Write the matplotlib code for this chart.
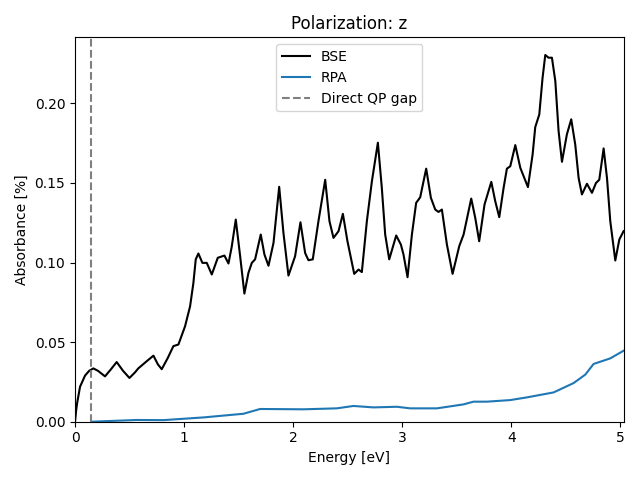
import numpy as np
import matplotlib
matplotlib.use("Agg")
import matplotlib.pyplot as plt

# BSE spectrum (energy in eV, absorbance in %)
bse_energy = [0.0, 0.01, 0.02, 0.046, 0.092, 0.13, 0.168, 0.21, 0.275, 0.33,
              0.382, 0.44, 0.499, 0.55, 0.58, 0.657, 0.719, 0.76, 0.795, 0.85,
              0.902, 0.948, 1.009, 1.055, 1.085, 1.107, 1.131, 1.168, 1.208, 1.254,
              1.309, 1.37, 1.407, 1.437, 1.474, 1.514, 1.553, 1.59, 1.621, 1.651,
              1.703, 1.737, 1.774, 1.82, 1.872, 1.911, 1.957, 2.018, 2.067, 2.11,
              2.14, 2.18, 2.232, 2.294, 2.333, 2.37, 2.416, 2.456, 2.498, 2.56,
              2.6, 2.63, 2.676, 2.722, 2.777, 2.813, 2.844, 2.881, 2.945, 2.988,
              3.012, 3.049, 3.089, 3.128, 3.165, 3.22, 3.263, 3.303, 3.333, 3.364,
              3.41, 3.462, 3.523, 3.563, 3.633, 3.67, 3.706, 3.755, 3.817, 3.853,
              3.89, 3.93, 3.96, 3.991, 4.037, 4.083, 4.153, 4.196, 4.22, 4.257,
              4.287, 4.312, 4.342, 4.373, 4.404, 4.434, 4.465, 4.51, 4.55, 4.587,
              4.618, 4.648, 4.694, 4.74, 4.777, 4.807, 4.847, 4.878, 4.908, 4.954,
              4.991, 5.03]
bse_abs = [0.0, 0.007, 0.012, 0.022, 0.029, 0.032, 0.0335, 0.032, 0.0285, 0.033,
           0.0375, 0.032, 0.0275, 0.031, 0.0335, 0.038, 0.0415, 0.036, 0.033, 0.040,
           0.0475, 0.0485, 0.060, 0.0725, 0.087, 0.102, 0.1057, 0.0998, 0.0998, 0.0925,
           0.103, 0.1044, 0.0994, 0.110, 0.127, 0.104, 0.0805, 0.0935, 0.0998, 0.102,
           0.1176, 0.105, 0.098, 0.1124, 0.1476, 0.1187, 0.0918, 0.104, 0.1253, 0.106,
           0.1015, 0.102, 0.126, 0.152, 0.126, 0.1155, 0.1197, 0.1306, 0.1134, 0.0929,
           0.0956, 0.094, 0.126, 0.151, 0.1753, 0.147, 0.1176, 0.102, 0.117, 0.1113,
           0.105, 0.0908, 0.1176, 0.1375, 0.141, 0.159, 0.1407, 0.1333, 0.1318, 0.1333,
           0.1113, 0.0929, 0.1103, 0.1176, 0.1402, 0.128, 0.1134, 0.1365, 0.1507, 0.1386,
           0.1285, 0.147, 0.159, 0.1605, 0.1738, 0.1595, 0.1474, 0.168, 0.1851, 0.193,
           0.216, 0.2304, 0.2287, 0.2287, 0.214, 0.1826, 0.1633, 0.1805, 0.190, 0.174,
           0.153, 0.1428, 0.1495, 0.1438, 0.150, 0.152, 0.1717, 0.153, 0.126, 0.1013,
           0.1145, 0.1197]

# RPA spectrum
rpa_energy = [0.147, 0.566, 0.81, 1.177, 1.544, 1.697, 2.095, 2.4, 2.553, 2.737,
              2.951, 3.073, 3.318, 3.563, 3.654, 3.777, 3.991, 4.144, 4.388, 4.572,
              4.679, 4.755, 4.847, 4.908, 5.03]
rpa_abs = [0.0, 0.0011, 0.001, 0.0027, 0.005, 0.008, 0.0078, 0.0084, 0.0099, 0.009,
           0.0094, 0.0084, 0.0084, 0.0109, 0.0126, 0.0126, 0.0136, 0.0153, 0.0184, 0.0243,
           0.0296, 0.0363, 0.0384, 0.0398, 0.0446]

qp_gap = 0.147

fig, ax = plt.subplots(figsize=(6.4, 4.8), dpi=100)
ax.plot(bse_energy, bse_abs, color='black', label='BSE')
ax.plot(rpa_energy, rpa_abs, color='tab:blue', label='RPA')
ax.axvline(qp_gap, color='gray', linestyle='--', label='Direct QP gap')
ax.set_xlim(0, 5.03)
ax.set_ylim(0, 0.2415)
ax.set_title('Polarization: z')
ax.set_xlabel('Energy [eV]')
ax.set_ylabel('Absorbance [%]')
ax.legend(loc='upper center')
fig.tight_layout()
fig.savefig('out.png')
